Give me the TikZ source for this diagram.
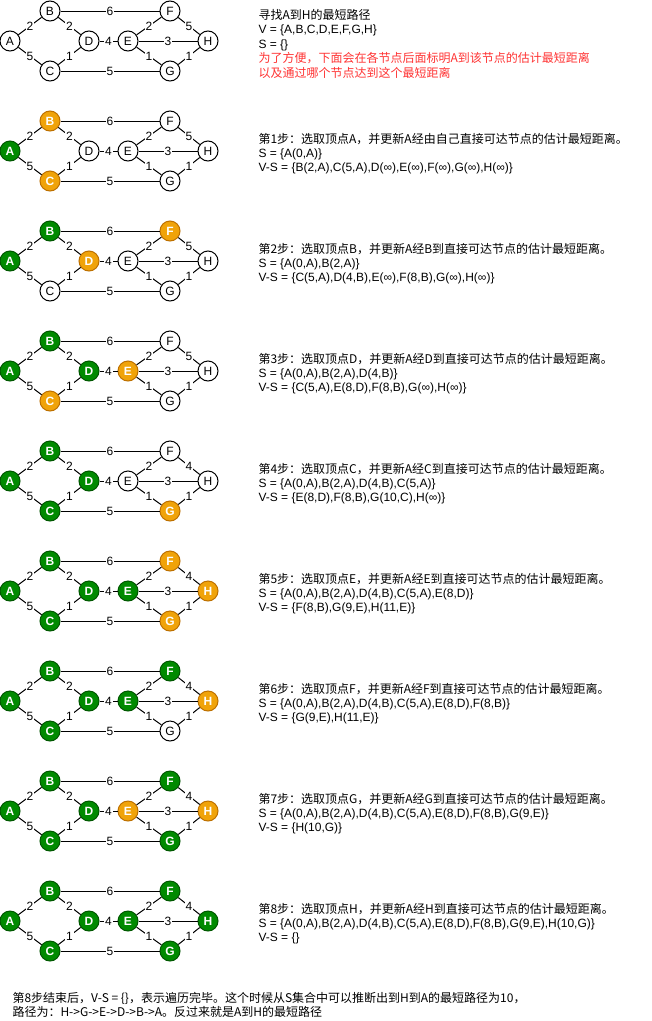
\documentclass[tikz,border=0pt]{standalone}
\usepackage{fontspec}
\setmainfont{Liberation Sans}
\newfontfamily\cjk{Noto Sans CJK SC}
\definecolor{donefill}{HTML}{008A00}
\definecolor{donedraw}{HTML}{005700}
\definecolor{candfill}{HTML}{F0A30A}
\definecolor{canddraw}{HTML}{BD7000}
\definecolor{notered}{HTML}{FF3333}

\begin{document}
\begin{tikzpicture}[x=0.75pt, y=-0.75pt, line width=0.75pt,
  vtx/.style={draw, circle, fill=white, minimum size=15pt, inner sep=0pt, font=\fontsize{9}{10}\selectfont},
  vdone/.style={vtx, draw=donedraw, fill=donefill, text=white, font=\fontsize{9}{10}\selectfont\bfseries},
  vcand/.style={vtx, draw=canddraw, fill=candfill, text=white, font=\fontsize{9}{10}\selectfont\bfseries},
  wt/.style={fill=white, inner sep=0.6pt, font=\fontsize{9}{10}\selectfont},
  info/.style={anchor=base west, align=left, inner sep=0pt, font=\fontsize{9}{10.8}\selectfont}]
\fill[white] (0,0) rectangle (651,1021);
\useasboundingbox (0,0) rectangle (651,1021);

% one graph per step
\foreach \k/\sA/\sB/\sC/\sD/\sE/\sF/\sG/\sH/\fh in {
  0/vtx/vtx/vtx/vtx/vtx/vtx/vtx/vtx/5,
  1/vdone/vcand/vcand/vtx/vtx/vtx/vtx/vtx/5,
  2/vdone/vdone/vtx/vcand/vtx/vcand/vtx/vtx/5,
  3/vdone/vdone/vcand/vdone/vcand/vtx/vtx/vtx/5,
  4/vdone/vdone/vdone/vdone/vtx/vtx/vcand/vtx/4,
  5/vdone/vdone/vdone/vdone/vdone/vcand/vcand/vcand/4,
  6/vdone/vdone/vdone/vdone/vdone/vdone/vtx/vcand/4,
  7/vdone/vdone/vdone/vdone/vcand/vdone/vdone/vcand/4,
  8/vdone/vdone/vdone/vdone/vdone/vdone/vdone/vdone/4}{
\begin{scope}[shift={(0,\k*110)}]
\node[\sA] (A\k) at (10,41) {A};
\node[\sB] (B\k) at (50,11) {B};
\node[\sC] (C\k) at (50,71) {C};
\node[\sD] (D\k) at (89,41) {D};
\node[\sE] (E\k) at (128,41) {E};
\node[\sF] (F\k) at (170,11) {F};
\node[\sG] (G\k) at (170,71) {G};
\node[\sH] (H\k) at (208,41) {H};
\foreach \u/\v/\w in {A/B/2, A/C/5, B/D/2, C/D/1, D/E/4, B/F/6, C/G/5, E/F/2, E/G/1, E/H/3, F/H/\fh, G/H/1}
  \draw (\u\k) -- node[wt] {\w} (\v\k);
\end{scope}
}

% texts (anchored at the baseline of the last line)
\node[info] (intro) at (258,77) {{\cjk 寻找A到H的最短路径}\\
  V = \{A,B,C,D,E,F,G,H\}\\
  S = \{\}\\
  {\cjk\color{notered}为了方便，下面会在各节点后面标明A到该节点的估计最短距离}\\
  {\cjk\color{notered}以及通过哪个节点达到这个最短距离}};

\node[info] (step1) at (258,171.8) {{\cjk 第1步：选取顶点A，并更新A经由自己直接可达节点的估计最短距离。}\\
  S = \{A(0,A)\}\\
  V-S = \{B(2,A),C(5,A),D(∞),E(∞),F(∞),G(∞),H(∞)\}};
\node[info] (step2) at (258,281.8) {{\cjk 第2步：选取顶点B，并更新A经B到直接可达节点的估计最短距离。}\\
  S = \{A(0,A),B(2,A)\}\\
  V-S = \{C(5,A),D(4,B),E(∞),F(8,B),G(∞),H(∞)\}};
\node[info] (step3) at (258,391.8) {{\cjk 第3步：选取顶点D，并更新A经D到直接可达节点的估计最短距离。}\\
  S = \{A(0,A),B(2,A),D(4,B)\}\\
  V-S = \{C(5,A),E(8,D),F(8,B),G(∞),H(∞)\}};
\node[info] (step4) at (258,501.8) {{\cjk 第4步：选取顶点C，并更新A经C到直接可达节点的估计最短距离。}\\
  S = \{A(0,A),B(2,A),D(4,B),C(5,A)\}\\
  V-S = \{E(8,D),F(8,B),G(10,C),H(∞)\}};
\node[info] (step5) at (258,611.8) {{\cjk 第5步：选取顶点E，并更新A经E到直接可达节点的估计最短距离。}\\
  S = \{A(0,A),B(2,A),D(4,B),C(5,A),E(8,D)\}\\
  V-S = \{F(8,B),G(9,E),H(11,E)\}};
\node[info] (step6) at (258,721.8) {{\cjk 第6步：选取顶点F，并更新A经F到直接可达节点的估计最短距离。}\\
  S = \{A(0,A),B(2,A),D(4,B),C(5,A),E(8,D),F(8,B)\}\\
  V-S = \{G(9,E),H(11,E)\}};
\node[info] (step7) at (258,831.8) {{\cjk 第7步：选取顶点G，并更新A经G到直接可达节点的估计最短距离。}\\
  S = \{A(0,A),B(2,A),D(4,B),C(5,A),E(8,D),F(8,B),G(9,E)\}\\
  V-S = \{H(10,G)\}};
\node[info] (step8) at (258,941.8) {{\cjk 第8步：选取顶点H，并更新A经H到直接可达节点的估计最短距离。}\\
  S = \{A(0,A),B(2,A),D(4,B),C(5,A),E(8,D),F(8,B),G(9,E),H(10,G)\}\\
  V-S = \{\}};

\node[info] (summary) at (12,1016.9) {{\cjk 第8步结束后，V-S = \{\}，表示遍历完毕。这个时候从S集合中可以推断出到H到A的最短路径为10，}\\
  {\cjk 路径为：H->G->E->D->B->A。反过来就是A到H的最短路径}};
\end{tikzpicture}
\end{document}
